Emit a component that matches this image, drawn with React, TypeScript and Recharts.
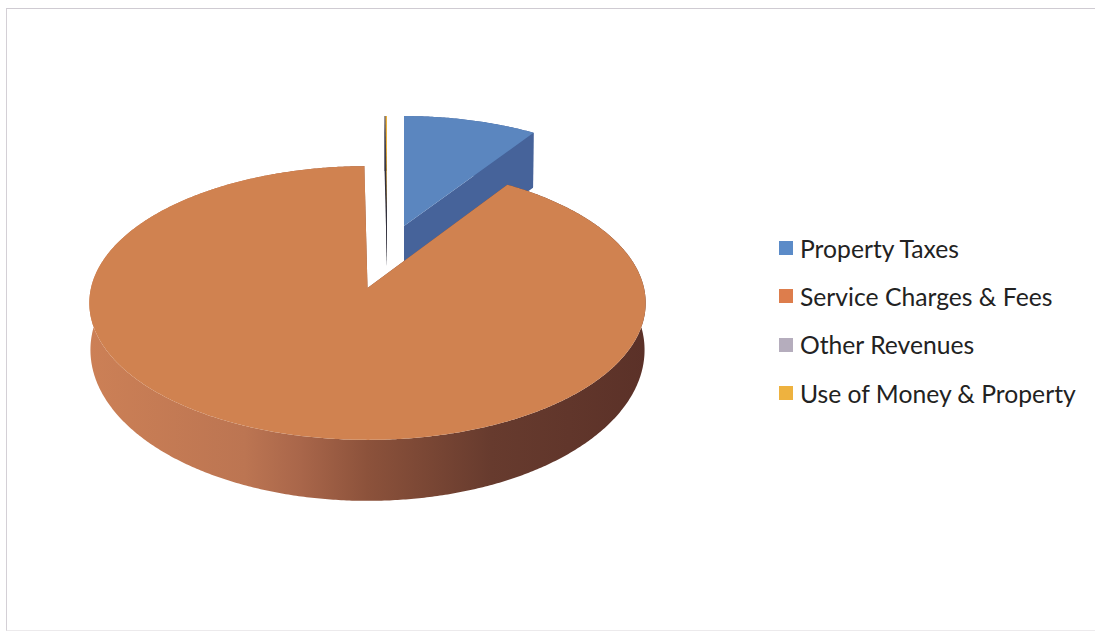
import { Legend, Pie, PieChart } from 'recharts';

const categories = ['Property Taxes', 'Service Charges & Fees', 'Other Revenues', 'Use of Money & Property'];
const shares = [9.3, 90.5, 0.08, 0.12];
const faceColors = ['#5B86BF', '#D08250', '#8C8794', '#EDB23C'];
const wallColors = ['#46639A', 'url(#serviceWall)', '#34323E', '#34323E'];
const legendColors = ['#5B8BC8', '#DD7D4C', '#B5ADBD', '#EEB23F'];

// how far each wedge is pulled out of the pie, and how it sits on the tilted disc
const explode = [
  { dx: 36.5, dy: -62, scale: 0.927, squash: 0.973, depth: 55, bulge: 0 },
  { dx: 0, dy: 0, scale: 1, squash: 1, depth: 47, bulge: 14 },
  { dx: 19.5, dy: -77, scale: 0.78, squash: 1, depth: 55, bulge: 0 },
  { dx: 19.5, dy: -77, scale: 0.78, squash: 1, depth: 55, bulge: 0 },
];

const data = categories.map((name, i) => ({ name, value: shares[i], fill: faceColors[i], index: i }));

// tilt of the disc: the far rim is squeezed, the near rim stretched
const TILT = 0.4865;
const PERSPECTIVE = 0.1095;

function rimPoint(cx: number, cy: number, rx: number, ry: number, deg: number) {
  const rad = (deg * Math.PI) / 180;
  const u = Math.sin(rad);
  const v = Math.cos(rad);
  const w = 1 + PERSPECTIVE * v;
  return [cx + (rx * u) / w, cy - (ry * TILT * v) / w];
}

function toPath(points: number[][]) {
  return points.map((p, i) => `${i ? 'L' : 'M'}${p[0].toFixed(2)} ${p[1].toFixed(2)}`).join(' ') + ' Z';
}

function DiscSlice(props: any) {
  const { cx, cy, outerRadius, startAngle, endAngle, fill, index } = props;
  const { dx, dy, scale, squash, depth, bulge } = explode[index];
  const ox = cx + dx;
  const oy = cy + dy;
  const rx = outerRadius * scale;
  const ry = (rx * squash * 278) / outerRadius;
  // recharts hands over math angles, the disc works clockwise from 12 o'clock
  const from = 90 - startAngle;
  const to = 90 - endAngle;
  const rim: number[][] = [];
  const steps = Math.max(2, Math.ceil((to - from) * 2));
  for (let i = 0; i <= steps; i++) rim.push(rimPoint(ox, oy, rx, ry, from + ((to - from) * i) / steps));
  // the lower rim bellies out towards the viewer
  const sink = (p: number[]) => [ox + (p[0] - ox) * 0.996, p[1] + depth + (bulge * (p[1] - oy - 15)) / 137];
  const apex = [ox, oy];
  const side = [...rim, ...rim.map(sink).reverse()];
  const first = rim[0];
  const last = rim[rim.length - 1];
  const wall = wallColors[index];
  return (
    <g>
      <path d={toPath(side)} fill={wall} />
      <path d={toPath([apex, first, sink(first), sink(apex)])} fill={wall} />
      <path d={toPath([apex, last, sink(last), sink(apex)])} fill={wall} />
      <path d={toPath([apex, ...rim])} fill={fill} />
    </g>
  );
}

function LegendList({ payload }: any) {
  return (
    <div>
      {(payload || []).map((item: any, i: number) => (
        <div key={item.value} style={{ display: 'flex', alignItems: 'center', height: 48.3 }}>
          <span style={{ width: 14, height: 14, background: legendColors[i], marginRight: 7 }} />
          <span style={{ fontFamily: 'Lato', fontSize: 24.7, color: '#222222', whiteSpace: 'nowrap' }}>{item.value}</span>
        </div>
      ))}
    </div>
  );
}

export default function App() {
  return (
    <div style={{ position: 'absolute', left: 0, top: 0, width: 1095, height: 631, background: '#fff', overflow: 'hidden' }}>
      <div
        style={{
          position: 'absolute',
          left: 6,
          top: 8,
          width: 1089,
          height: 621,
          borderLeft: '1px solid #D4D0D6',
          borderTop: '1px solid #CFCBD2',
          borderBottom: '1px solid #ECEAEC',
        }}
      />
      <PieChart width={1095} height={631} margin={{ top: 0, right: 0, bottom: 0, left: 0 }}>
        <defs>
          <linearGradient id="serviceWall" gradientUnits="userSpaceOnUse" x1="88" y1="0" x2="647" y2="0">
            <stop offset="0" stopColor="#CC8056" />
            <stop offset="0.28" stopColor="#BC7552" />
            <stop offset="0.38" stopColor="#A9664A" />
            <stop offset="0.5" stopColor="#8C523B" />
            <stop offset="0.72" stopColor="#673B2E" />
            <stop offset="1" stopColor="#5B3128" />
          </linearGradient>
        </defs>
        <Pie
          data={data}
          dataKey="value"
          nameKey="name"
          cx={367.5}
          cy={288}
          innerRadius={0}
          outerRadius={276.5}
          startAngle={90}
          endAngle={-270}
          stroke="none"
          legendType="square"
          isAnimationActive={false}
          shape={DiscSlice}
          activeShape={DiscSlice}
          inactiveShape={DiscSlice}
        />
        <Legend
          layout="vertical"
          content={LegendList}
          itemSorter={null}
          wrapperStyle={{ position: 'absolute', left: 779, top: 224, width: 310 }}
        />
      </PieChart>
    </div>
  );
}
